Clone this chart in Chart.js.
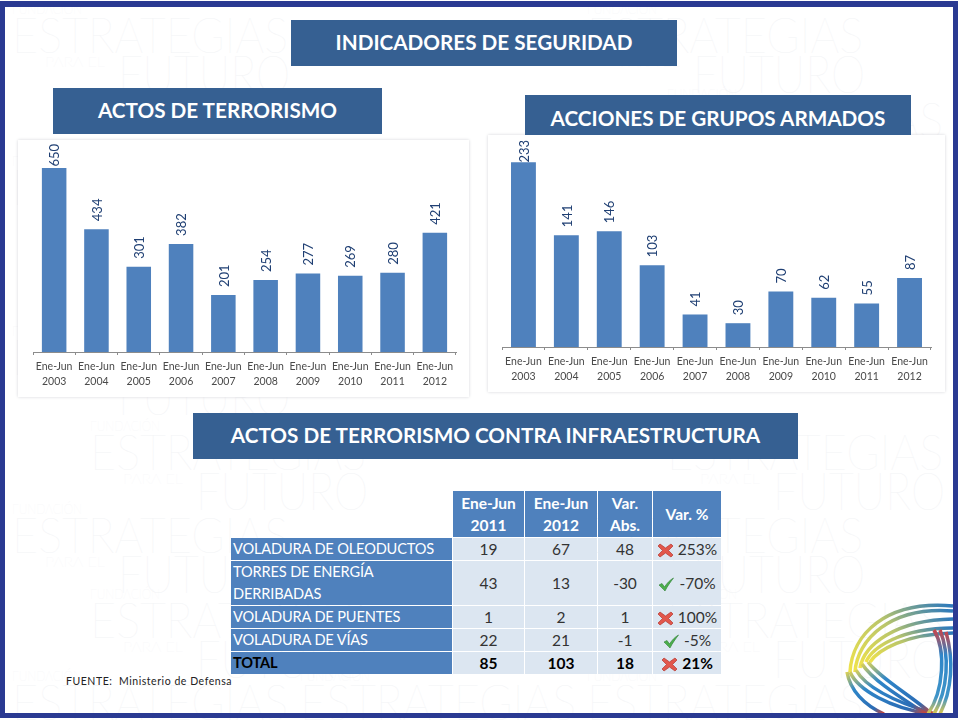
<!DOCTYPE html>
<html lang="es">
<head>
<meta charset="utf-8">
<title>Indicadores de seguridad</title>
<script src="https://cdn.jsdelivr.net/npm/chart.js@4"></script>
<style>
  html, body { margin: 0; padding: 0; background: #fff; }
  body { position: relative; width: 960px; height: 720px; overflow: hidden; font-family: Lato, sans-serif; }
  .abs { position: absolute; }
  .marca { position: absolute; color: #f3f4f6; white-space: nowrap; line-height: 1; font-family: Lato, sans-serif; font-weight: 100; transform-origin: left top; }
  .banda { position: absolute; background: #366092; color: #fff; font-weight: 700; font-size: 20.7px; text-align: center; white-space: nowrap; }
  .tarjeta { position: absolute; background: #fff; box-shadow: 0 0 3px #d4d6da; }
  canvas { position: absolute; }
  table { position: absolute; left: 230px; top: 490px; border-collapse: separate; border-spacing: 1px; table-layout: fixed; width: 492px; font-size: 15.5px; color: #333; }
  td { padding: 0; text-align: center; background: #dce6f1; line-height: 22px; white-space: nowrap; }
  td.nombre { background: #4f81bd; color: #fff; text-align: left; padding-left: 2px; white-space: normal; font-size: 14.6px; letter-spacing: -.15px; }
  tr.cabecera td { background: #4f81bd; color: #fff; font-weight: 700; }
  tr.cabecera td.vacio { background: transparent; }
  tr.total td { font-weight: 700; color: #000; }
  tr.total td.nombre { color: #000; }
  td svg { vertical-align: -3px; margin-right: 4px; }
  #fuente { position: absolute; left: 66px; top: 675px; font-size: 10.5px; color: #222; letter-spacing: .55px; white-space: nowrap; }
  .marco { position: absolute; background: #2a3a92; }
</style>
</head>
<body>
<div id="fondo"></div>

<div class="tarjeta" style="left:18px;top:140px;width:451px;height:257px"></div>
<div class="tarjeta" style="left:488px;top:135px;width:457px;height:257px"></div>

<canvas id="graficoActos" width="451" height="257" style="left:18px;top:140px"></canvas>
<canvas id="graficoGrupos" width="457" height="257" style="left:488px;top:135px"></canvas>

<div class="banda" style="left:291px;top:20px;width:386px;height:46px;line-height:45px">INDICADORES DE SEGURIDAD</div>
<div class="banda" style="left:53px;top:88px;width:329px;height:46px;line-height:45px">ACTOS DE TERRORISMO</div>
<div class="banda" style="left:525px;top:95px;width:386px;height:40px;line-height:47px">ACCIONES DE GRUPOS ARMADOS</div>
<div class="banda" style="left:193px;top:413px;width:605px;height:46px;line-height:45px">ACTOS DE TERRORISMO CONTRA INFRAESTRUCTURA</div>

<table id="tablaInfra"></table>
<div id="fuente">FUENTE:&nbsp; Ministerio de Defensa</div>

<svg class="abs" style="left:840px;top:595px" width="120" height="125" viewBox="840 595 120 125">
  <defs>
    <linearGradient id="gArriba" x1="0" y1="1" x2="1" y2="0">
      <stop offset="0" stop-color="#f0e34a"/><stop offset=".55" stop-color="#b9c56a"/><stop offset="1" stop-color="#2a78bd"/>
    </linearGradient>
    <linearGradient id="gAbajo" x1="0" y1="0" x2="1" y2="1">
      <stop offset="0" stop-color="#d8cf58"/><stop offset=".3" stop-color="#2f86c8"/><stop offset=".8" stop-color="#2b6cb5"/><stop offset="1" stop-color="#d8402c"/>
    </linearGradient>
    <linearGradient id="gDerecha" x1="0" y1="0" x2="0" y2="1">
      <stop offset="0" stop-color="#c8444a"/><stop offset=".3" stop-color="#2f86c8"/><stop offset=".8" stop-color="#3f94c8"/><stop offset="1" stop-color="#e0c84a"/>
    </linearGradient>
  </defs>
  <g fill="none" stroke-width="3.5">
    <path d="M850 672 C852 635 885 600 953 606" stroke="url(#gArriba)"/>
    <path d="M855 672 C857 640 890 606 953 611" stroke="url(#gArriba)"/>
    <path d="M860 668 C864 645 895 620 953 619" stroke="url(#gArriba)"/>
    <path d="M866 662 C872 648 900 628 953 628" stroke="url(#gArriba)"/>
    <path d="M870 662 C878 650 905 634 953 633" stroke="url(#gArriba)"/>
    <path d="M847 672 C850 690 864 705 884 714" stroke="url(#gAbajo)"/>
    <path d="M850 672 C858 690 890 708 930 714" stroke="url(#gAbajo)"/>
    <path d="M856 670 C866 688 895 702 935 714" stroke="url(#gAbajo)"/>
    <path d="M862 664 C874 682 905 700 926 714" stroke="url(#gAbajo)"/>
    <path d="M868 662 C880 678 910 695 932 714" stroke="url(#gAbajo)"/>
    <path d="M934 630 C946 650 944 690 928 714" stroke="url(#gDerecha)"/>
    <path d="M940 630 C950 655 948 690 934 714" stroke="url(#gDerecha)"/>
    <path d="M946 632 C954 660 952 690 940 714" stroke="url(#gDerecha)"/>
  </g>
</svg>

<div class="marco" style="left:0;top:1px;width:958px;height:6px"></div>
<div class="marco" style="left:0;top:1px;width:5px;height:717px"></div>
<div class="marco" style="left:953px;top:1px;width:5px;height:717px"></div>
<div class="marco" style="left:0;top:713px;width:958px;height:5px"></div>

<script>
// Datos de los dos graficos
const periodos = [
  ["Ene-Jun", "2003"], ["Ene-Jun", "2004"], ["Ene-Jun", "2005"], ["Ene-Jun", "2006"], ["Ene-Jun", "2007"],
  ["Ene-Jun", "2008"], ["Ene-Jun", "2009"], ["Ene-Jun", "2010"], ["Ene-Jun", "2011"], ["Ene-Jun", "2012"]
];
const actosTerrorismo = [650, 434, 301, 382, 201, 254, 277, 269, 280, 421];
const accionesGrupos = [233, 141, 146, 103, 41, 30, 70, 62, 55, 87];

// Datos de la tabla
const cabecera = [["Ene-Jun", "2011"], ["Ene-Jun", "2012"], ["Var.", "Abs."], ["Var. %"]];
const filas = ["VOLADURA DE OLEODUCTOS", "TORRES DE ENERGÍA DERRIBADAS", "VOLADURA DE PUENTES", "VOLADURA DE VÍAS", "TOTAL"];
const ene2011 = [19, 43, 1, 22, 85];
const ene2012 = [67, 13, 2, 21, 103];
const varAbs = [48, -30, 1, -1, 18];
const varPct = ["253%", "-70%", "100%", "-5%", "21%"];

// Marca de agua del fondo: [x, y]
const sellos = [[12, 0], [587, 0], [12, 152], [667, 85], [12, 322], [90, 417], [667, 417], [12, 500], [587, 500],
  [90, 585], [667, 585], [12, 667], [300, 667], [587, 667]];
const fondo = document.getElementById("fondo");
function marca(texto, x, y, size, ancho) {
  const el = document.createElement("div");
  el.className = "marca";
  el.textContent = texto;
  el.style.left = x + "px";
  el.style.top = y + "px";
  el.style.fontSize = size + "px";
  fondo.appendChild(el);
  el.style.transform = `scaleX(${ancho / el.offsetWidth})`;
}
sellos.forEach(([x, y]) => {
  marca("FUNDACIÓN", x, y + 2, 14, 70);
  marca("ESTRATEGIAS", x, y + 9, 50, 276);
  marca("PARA EL", x + 33, y + 55, 14, 60);
  marca("FUTURO", x + 106, y + 47, 52, 172);
});

// Etiquetas de valor giradas sobre cada barra
const etiquetas = {
  id: "etiquetas",
  afterDatasetsDraw(chart) {
    const ctx = chart.ctx;
    const meta = chart.getDatasetMeta(0);
    ctx.save();
    ctx.font = "13px Lato, sans-serif";
    ctx.fillStyle = "#1f3f73";
    ctx.textBaseline = "middle";
    ctx.textAlign = "left";
    meta.data.forEach((barra, i) => {
      const texto = String(chart.data.datasets[0].data[i]);
      const w = ctx.measureText(texto).width;
      let base = barra.y - 8;
      if (base - w < chart.chartArea.top) base = chart.chartArea.top + w;
      ctx.save();
      ctx.translate(barra.x + 1, base);
      ctx.rotate(-Math.PI / 2);
      ctx.fillText(texto, 0, 0);
      ctx.restore();
    });
    ctx.restore();
  }
};

function crearGrafico(id, valores, maximo, relleno) {
  new Chart(document.getElementById(id), {
    type: "bar",
    data: {
      labels: periodos,
      datasets: [{ data: valores, backgroundColor: "#4f81bd", barPercentage: 0.58, categoryPercentage: 1 }]
    },
    options: {
      responsive: false,
      animation: false,
      layout: { padding: relleno },
      plugins: { legend: { display: false }, tooltip: { enabled: false } },
      scales: {
        y: { display: false, min: 0, max: maximo },
        x: {
          afterFit(scale) { scale.height = 45; },
          border: { color: "#8c8c8c" },
          grid: { drawOnChartArea: false, color: "#8c8c8c", tickLength: 3 },
          ticks: {
            autoSkip: false, maxRotation: 0, padding: 4, color: "#4a4a4a",
            font: { family: "Lato, sans-serif", size: 10.5, lineHeight: 1.43 }
          }
        }
      }
    },
    plugins: [etiquetas]
  });
}

crearGrafico("graficoActos", actosTerrorismo, 735, { left: 15, right: 13, top: 4, bottom: 0 });
crearGrafico("graficoGrupos", accionesGrupos, 261, { left: 14, right: 14, top: 5, bottom: 0 });

// Iconos de la columna de variacion
const iconoMal = '<svg width="17" height="15" viewBox="0 0 17 15"><path d="M3 1 8.500 5 14 1 16 3 11.500 7.500 16 12 14 14 8.500 10 3 14 1 12 5.500 7.500 1 3Z" fill="#e2574c" stroke="#b5382f" stroke-width=".7"/></svg>';
const iconoBien = '<svg width="17" height="15" viewBox="0 0 17 15"><path d="M1 8 4 6.500 6.500 10C9 6 12 3 15.500 1 12.500 5 9.500 9 7 14 4.500 11.500 3 10 1 8Z" fill="#4cae4c" stroke="#2e7d32" stroke-width=".6"/></svg>';

// Tabla de infraestructura
const tabla = document.getElementById("tablaInfra");
const anchos = [221, 71, 72, 54, 68];
const colgroup = anchos.map(a => `<col style="width:${a}px">`).join("");
let html = `<colgroup>${colgroup}</colgroup><tr class="cabecera" style="height:46px"><td class="vacio"></td>`;
cabecera.forEach(c => { html += `<td>${c.join("<br>")}</td>`; });
html += "</tr>";
filas.forEach((fila, i) => {
  const alto = i === 1 ? 44 : 22;
  const clase = i === filas.length - 1 ? ' class="total"' : "";
  const icono = varAbs[i] > 0 ? iconoMal : iconoBien;
  html += `<tr${clase} style="height:${alto}px"><td class="nombre">${fila}</td><td>${ene2011[i]}</td><td>${ene2012[i]}</td><td>${varAbs[i]}</td><td>${icono}${varPct[i]}</td></tr>`;
});
tabla.innerHTML = html;
</script>
</body>
</html>
